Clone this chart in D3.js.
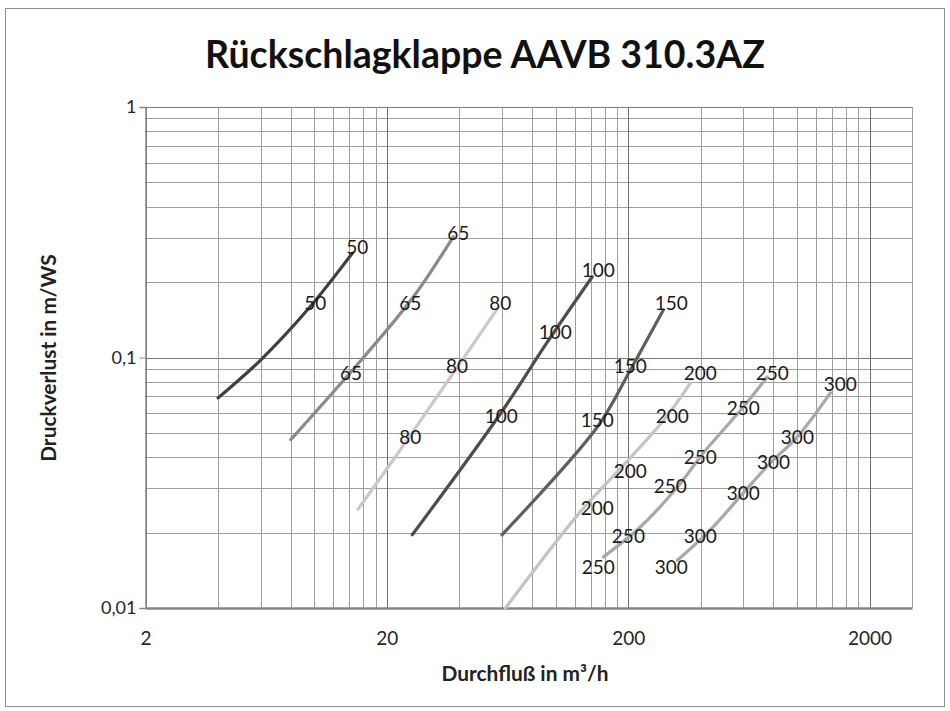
<!DOCTYPE html>
<html><head><meta charset="utf-8">
<script src="https://cdn.jsdelivr.net/npm/d3@7"></script>
<style>
body{margin:0;background:#fff}
text{font-family:Lato,"Open Sans",sans-serif}
</style>
</head><body>
<svg id="c" width="950" height="711"></svg>
<script>
// ---------- data ----------
const chartTitle = "Rückschlagklappe AAVB 310.3AZ";
const xTitle = "Durchfluß in m³/h";
const yTitle = "Druckverlust in m/WS";
const xTickValues = [2, 20, 200, 2000];
const xTickLabels = ["2", "20", "200", "2000"];
const yTickValues = [0.01, 0.1, 1];
const yTickLabels = ["0,01", "0,1", "1"];
const seriesNames = ["50", "65", "80", "100", "150", "200", "250", "300"];

// [Durchfluss m³/h, Druckverlust m/WS]
const s50  = [[4.0, 0.069], [6.0, 0.0977], [9.6, 0.159], [14.4, 0.261]];
const s65  = [[8.0, 0.047], [16.0, 0.100], [25.7, 0.174], [37.7, 0.303]];
const s80  = [[15.2, 0.0248], [22.7, 0.0427], [37.7, 0.0867], [57.0, 0.155]];
const s100 = [[25.5, 0.0196], [59.0, 0.0595], [92.0, 0.1143], [142.0, 0.21]];
const s150 = [[60.0, 0.0196], [149.0, 0.0528], [204.0, 0.089], [280.0, 0.155]];
const s200 = [[62.0, 0.010], [126.6, 0.0242], [185.5, 0.0360], [280.0, 0.0560], [362.0, 0.079]];
const s250 = [[158.0, 0.016], [224.0, 0.021], [320.0, 0.0304], [410.0, 0.0416], [600.0, 0.0634], [754.0, 0.0836]];
const s300 = [[320.0, 0.0155], [438.0, 0.0205], [600.0, 0.0288], [776.0, 0.0379], [1005.0, 0.0482], [1377.0, 0.0722]];

// data label anchors (same units)
const l50  = [[10.1, 0.165], [15.1, 0.276]];
const l65  = [[14.2, 0.0867], [25.0, 0.165], [39.5, 0.314]];
const l80  = [[25.0, 0.0482], [39.1, 0.0925], [59.0, 0.165]];
const l100 = [[59.6, 0.0584], [99.7, 0.1264], [150.4, 0.2235]];
const l150 = [[148.9, 0.0563], [204.0, 0.0925], [301.9, 0.165]];
const l200 = [[148.9, 0.0251], [204.0, 0.0352], [304.7, 0.0584], [398.0, 0.0867]];
const l250 = [[150.4, 0.0146], [200.4, 0.0194], [299.0, 0.0307], [398.0, 0.0401], [600.0, 0.0629], [791.0, 0.0867]];
const l300 = [[301.9, 0.0146], [398.0, 0.0194], [600.0, 0.0288], [799.6, 0.0383], [1005.0, 0.0482], [1514.0, 0.0784]];

const seriesPoints = [s50, s65, s80, s100, s150, s200, s250, s300];
const seriesLabels = [l50, l65, l80, l100, l150, l200, l250, l300];

// ---------- styles ----------
const seriesColors = ["#3f3f3f", "#8a8a8a", "#c9c9c9", "#4d4d4d", "#5f5f5f", "#c4c4c4", "#a8a8a8", "#a8a8a8"];

// ---------- layout ----------
const W = 950, H = 711;
const plot = {left: 145.5, right: 912, top: 107, bottom: 608};

const svg = d3.select("#c");
svg.append("rect").attr("x", 0).attr("y", 0).attr("width", W).attr("height", H).attr("fill", "#fff");
svg.append("rect").attr("x", 5.5).attr("y", 8.5).attr("width", 939).attr("height", 698)
  .attr("fill", "#fff").attr("stroke", "#8c8c8c").attr("stroke-width", 1);

const x = d3.scaleLog().domain([2, 3000]).range([plot.left, plot.right]);
const y = d3.scaleLog().domain([0.01, 1]).range([plot.bottom, plot.top]);

// minor grid values
const xGrid = [];
[2, 20, 200].forEach(b => { for (let m = 1; m <= 10; m++) xGrid.push(b * m); });
const yGrid = [];
[0.01, 0.1].forEach(b => { for (let m = 1; m <= 9; m++) yGrid.push(+(b * m).toPrecision(3)); });
yGrid.push(1);

const g = svg.append("g");
g.append("g").selectAll("line").data(yGrid).join("line")
  .attr("x1", plot.left).attr("x2", plot.right)
  .attr("y1", d => Math.round(y(d)) + 0.5).attr("y2", d => Math.round(y(d)) + 0.5)
  .attr("stroke", d => yTickValues.includes(d) ? "#7a7a7a" : "#9e9e9e").attr("stroke-width", 1);
g.append("g").selectAll("line").data(xGrid).join("line")
  .attr("y1", plot.top).attr("y2", plot.bottom)
  .attr("x1", d => Math.round(x(d)) + 0.5).attr("x2", d => Math.round(x(d)) + 0.5)
  .attr("stroke", d => xTickValues.includes(d) ? "#6e6e6e" : "#9e9e9e").attr("stroke-width", 1);
g.append("line").attr("x1", plot.right + 0.5).attr("x2", plot.right + 0.5)
  .attr("y1", plot.top).attr("y2", plot.bottom).attr("stroke", "#9e9e9e");

// axes
const xAxis = d3.axisBottom(x).tickValues(xTickValues).tickFormat((d, i) => xTickLabels[i]).tickSize(0).tickPadding(24);
const yAxis = d3.axisLeft(y).tickValues(yTickValues).tickFormat((d, i) => yTickLabels[i]).tickSize(6).tickPadding(3);
const gx = svg.append("g").attr("transform", `translate(0,${plot.bottom})`).call(xAxis);
gx.select(".domain").attr("stroke", "#868686").attr("stroke-width", 2.5);
gx.selectAll("text").attr("font-size", 19).attr("fill", "#262626").attr("font-family", "Lato");
const gy = svg.append("g").attr("transform", `translate(${plot.left},0)`).call(yAxis);
gy.select(".domain").attr("stroke", "#868686").attr("stroke-width", 1.5);
gy.selectAll(".tick line").attr("stroke", "#868686");
gy.selectAll("text").attr("font-size", 18).attr("fill", "#262626").attr("font-family", "Lato");

// curves
const line = d3.line().x(d => x(d[0])).y(d => y(d[1])).curve(d3.curveCatmullRom.alpha(0.5));
seriesPoints.forEach((pts, i) => {
  svg.append("path").datum(pts).attr("d", line)
    .attr("fill", "none").attr("stroke", seriesColors[i]).attr("stroke-width", 3.2)
    .attr("stroke-linecap", "round").attr("stroke-linejoin", "round");
});
// data labels
seriesLabels.forEach((lbls, i) => {
  svg.append("g").selectAll("text").data(lbls).join("text")
    .attr("x", d => x(d[0])).attr("y", d => y(d[1]))
    .attr("text-anchor", "middle").attr("dy", "0.36em")
    .attr("font-size", 19).attr("fill", "#1a1a1a")
    .text(seriesNames[i]);
});

function fit(sel, target) {
  const w = sel.node().getComputedTextLength();
  const fs = parseFloat(sel.attr("font-size"));
  sel.attr("font-size", (fs * target / w).toFixed(2));
}
// titles
const t = svg.append("text").attr("x", 485).attr("y", 68).attr("text-anchor", "middle")
  .attr("font-weight", "bold").attr("font-size", 36).attr("fill", "#111").text(chartTitle);
fit(t, 560);
const xt = svg.append("text").attr("x", 525).attr("y", 681).attr("text-anchor", "middle")
  .attr("font-weight", "bold").attr("font-size", 17).attr("fill", "#222").text(xTitle);
fit(xt, 167);
const yt = svg.append("text").attr("transform", "translate(56,358) rotate(-90)").attr("text-anchor", "middle")
  .attr("font-weight", "bold").attr("font-size", xt.attr("font-size")).attr("fill", "#222").text(yTitle);
</script>
</body></html>
